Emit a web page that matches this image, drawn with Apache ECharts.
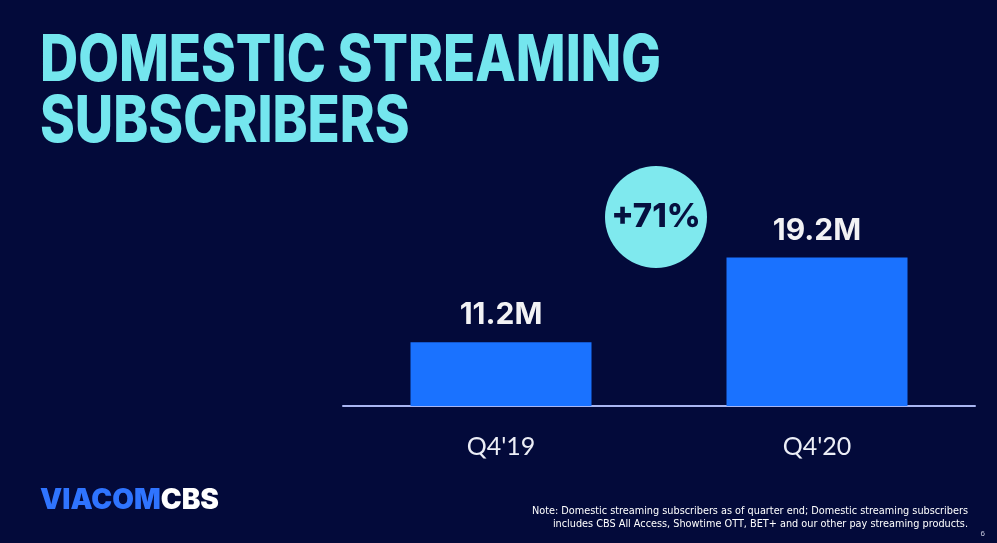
<!DOCTYPE html>
<html>
<head>
<meta charset="utf-8">
<script src="https://cdn.jsdelivr.net/npm/echarts@6/dist/echarts.min.js"></script>
<style>
  html, body { margin: 0; padding: 0; background: #030a3a; }
  #container { width: 997px; height: 543px; }
</style>
</head>
<body>
<div id="container"></div>
<script>
// data
const quarters = ["Q4'19", "Q4'20"];
const subscribers = [11.2, 19.2]; // millions
const changePct = Math.round((subscribers[1] / subscribers[0] - 1) * 100);

let myChart = echarts.init(document.getElementById('container'));

let option = {
  backgroundColor: '#030a3a',
  grid: { left: 343, right: 22, top: 196, bottom: 137 },
  xAxis: {
    type: 'category',
    data: quarters,
    axisTick: { show: false },
    axisLine: { lineStyle: { color: '#a9b6f2', width: 2 } },
    axisLabel: {
      color: '#eceef6',
      fontFamily: 'Lato',
      fontSize: 25,
      margin: 28
    }
  },
  yAxis: {
    type: 'value',
    min: 5.2,
    max: 25,
    show: false,
    splitLine: { show: false }
  },
  series: [{
    type: 'bar',
    data: subscribers,
    barWidth: 181,
    itemStyle: { color: '#1a72ff' },
    label: {
      show: true,
      position: 'top',
      distance: 12,
      formatter: p => p.value + 'M',
      color: '#f2f2f4',
      fontFamily: 'Inter',
      fontWeight: 700,
      fontSize: 30
    }
  }],
  graphic: [
    // title, condensed with scaleX since no narrow font is available
    {
      type: 'text',
      x: 40, y: 31,
      scaleX: 0.825,
      style: {
        text: 'DOMESTIC STREAMING\nSUBSCRIBERS',
        fill: '#74e6ee',
        font: '800 64px Inter',
        lineHeight: 61,
        verticalAlign: 'top'
      }
    },
    {
      type: 'circle',
      shape: { cx: 656, cy: 217, r: 51 },
      style: { fill: '#7fe9ee' }
    },
    {
      type: 'text',
      x: 656, y: 217,
      style: {
        text: '+' + changePct + '%',
        fill: '#06103f',
        font: '800 33px Inter',
        align: 'center',
        verticalAlign: 'middle'
      }
    },
    {
      type: 'text',
      left: 40, top: 487,
      style: {
        text: '{a|VIACOM}{b|CBS}',
        rich: {
          a: { fill: '#2f74ff', font: '900 28px Inter' },
          b: { fill: '#ffffff', font: '900 28px Inter' }
        }
      }
    },
    {
      type: 'text',
      x: 968, y: 505,
      style: {
        text: 'Note: Domestic streaming subscribers as of quarter end; Domestic streaming subscribers\nincludes CBS All Access, Showtime OTT, BET+ and our other pay streaming products.',
        fill: '#ffffff',
        font: '10.8px "DejaVu Sans Condensed", sans-serif',
        align: 'right',
        verticalAlign: 'top',
        lineHeight: 12.5
      }
    },
    {
      type: 'text',
      x: 985, y: 530,
      style: { text: '6', fill: '#c8cbe0', font: '8px sans-serif', align: 'right' }
    }
  ]
};

myChart.setOption(option);
</script>
</body>
</html>
